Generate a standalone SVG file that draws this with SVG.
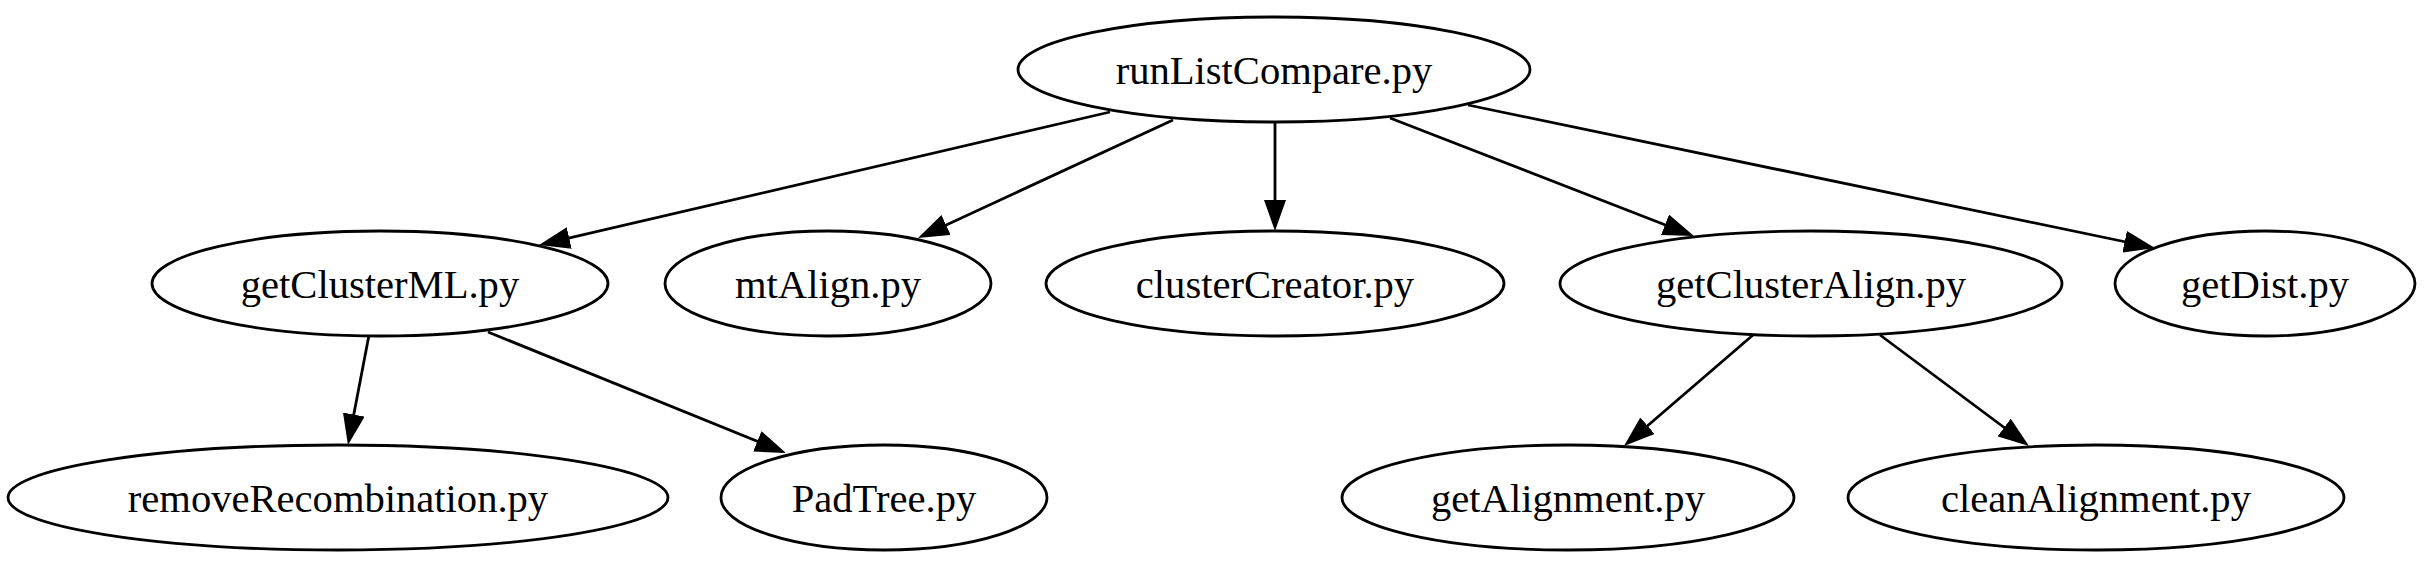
<svg xmlns="http://www.w3.org/2000/svg" width="2432" height="572" viewBox="0 0 2432 572">
<style>
.node ellipse{fill:none;stroke:#000;stroke-width:2.8}
.node text{font-family:"Liberation Serif","Times New Roman",serif;font-size:40.6px;fill:#000;text-anchor:middle}
.edge{fill:none;stroke:#000;stroke-width:2.8;marker-end:url(#arr)}
</style>
<defs>
<marker id="arr" viewBox="0 0 31 22" refX="26" refY="11" markerWidth="31" markerHeight="22" markerUnits="userSpaceOnUse" orient="auto">
<path d="M0,0 L31,11 L0,22 z" fill="#000"/>
</marker>
</defs>
<rect width="2432" height="572" fill="#fff"/>
<g id="connectors">
<path class="edge" d="M1110,112 L543.9,243.9"/>
<path class="edge" d="M1173,120 L922.5,235.9"/>
<path class="edge" d="M1275,122 L1275,226"/>
<path class="edge" d="M1390,118 L1689.3,234.2"/>
<path class="edge" d="M1468,105 L2150.1,247"/>
<path class="edge" d="M369,335 L348.9,440.1"/>
<path class="edge" d="M488,332 L781.4,451.1"/>
<path class="edge" d="M1753,335 L1627.8,442.7"/>
<path class="edge" d="M1880,335 L2025,443"/>
</g>
<g id="runListCompare" class="node"><ellipse cx="1274" cy="69.5" rx="256" ry="52.5"/><text x="1274" y="83.5">runListCompare.py</text></g>
<g id="getClusterML" class="node"><ellipse cx="380" cy="283.5" rx="228" ry="52.5"/><text x="380" y="297.5">getClusterML.py</text></g>
<g id="mtAlign" class="node"><ellipse cx="828" cy="283.5" rx="163" ry="52.5"/><text x="828" y="297.5">mtAlign.py</text></g>
<g id="clusterCreator" class="node"><ellipse cx="1275" cy="283.5" rx="229" ry="52.5"/><text x="1275" y="297.5">clusterCreator.py</text></g>
<g id="getClusterAlign" class="node"><ellipse cx="1811" cy="283.5" rx="251" ry="52.5"/><text x="1811" y="297.5">getClusterAlign.py</text></g>
<g id="getDist" class="node"><ellipse cx="2265" cy="283.5" rx="150" ry="52.5"/><text x="2265" y="297.5">getDist.py</text></g>
<g id="removeRecombination" class="node"><ellipse cx="338" cy="497.5" rx="330" ry="52.5"/><text x="338" y="511.5">removeRecombination.py</text></g>
<g id="PadTree" class="node"><ellipse cx="884" cy="497.5" rx="163" ry="52.5"/><text x="884" y="511.5">PadTree.py</text></g>
<g id="getAlignment" class="node"><ellipse cx="1568" cy="497.5" rx="226" ry="52.5"/><text x="1568" y="511.5">getAlignment.py</text></g>
<g id="cleanAlignment" class="node"><ellipse cx="2096" cy="497.5" rx="248" ry="52.5"/><text x="2096" y="511.5">cleanAlignment.py</text></g>
</svg>
